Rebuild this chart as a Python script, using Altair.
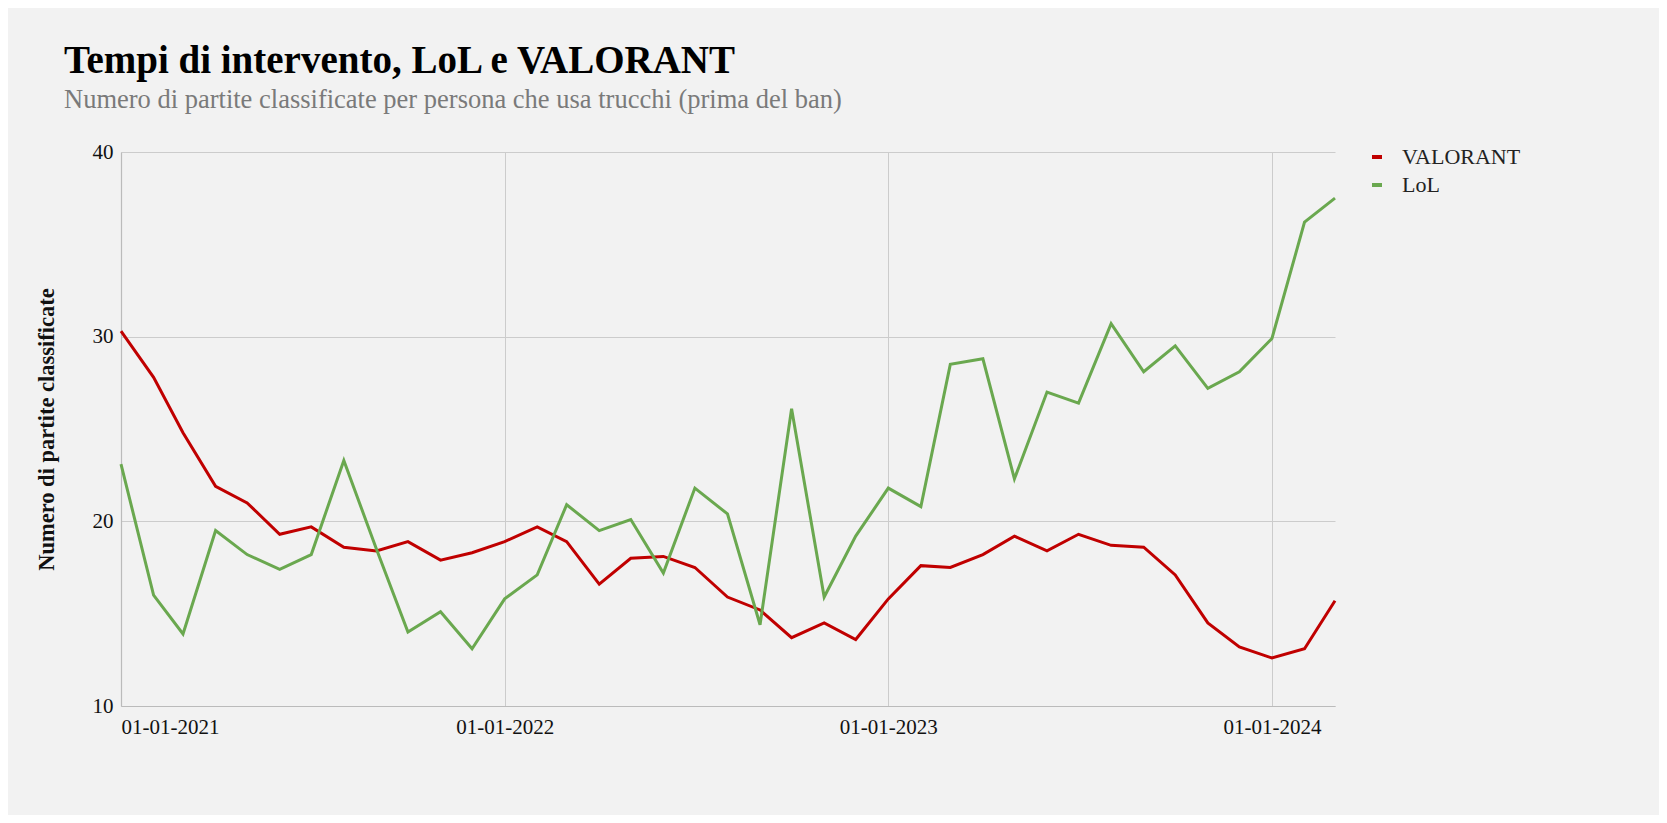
import altair as alt
import pandas as pd

months = pd.date_range("2021-01-01", "2024-03-01", freq="MS").strftime("%Y-%m-%d").tolist()

valorant = [30.3, 27.8, 24.8, 21.9, 21.0, 19.3, 19.7, 18.6, 18.4, 18.9,
            17.9, 18.3, 18.9, 19.7, 18.9, 16.6, 18.0, 18.1, 17.5, 15.9,
            15.2, 13.7, 14.5, 13.6, 15.8, 17.6, 17.5, 18.2, 19.2, 18.4,
            19.3, 18.7, 18.6, 17.1, 14.5, 13.2, 12.6, 13.1, 15.7]
lol = [23.1, 16.0, 13.9, 19.5, 18.2, 17.4, 18.2, 23.3, 18.5, 14.0,
       15.1, 13.1, 15.8, 17.1, 20.9, 19.5, 20.1, 17.2, 21.8, 20.4,
       14.4, 26.1, 15.9, 19.2, 21.8, 20.8, 28.5, 28.8, 22.3, 27.0,
       26.4, 30.7, 28.1, 29.5, 27.2, 28.1, 29.9, 36.2, 37.5]

series_names = ["VALORANT", "LoL"]
series_colors = ["#c00000", "#6aa84f"]
x_ticks = ["2021-01-01", "2022-01-01", "2023-01-01", "2024-01-01"]
y_ticks = [10, 20, 30, 40]

rows = []
for m, v in zip(months, valorant):
    rows.append({"date": m, "value": v, "gioco": "VALORANT"})
for m, v in zip(months, lol):
    rows.append({"date": m, "value": v, "gioco": "LoL"})
df = pd.DataFrame(rows)

FONT = "Liberation Serif"

chart = alt.Chart(df).mark_line(strokeWidth=3).encode(
    x=alt.X("date:T",
            scale=alt.Scale(domain=["2021-01-01", "2024-03-01"]),
            axis=alt.Axis(title=None, format="%d-%m-%Y", values=x_ticks,
                          labelFlush=True, labelOverlap=False)),
    y=alt.Y("value:Q",
            scale=alt.Scale(domain=[10, 40], nice=False, zero=False),
            axis=alt.Axis(title="Numero di partite classificate", values=y_ticks)),
    color=alt.Color("gioco:N",
                    scale=alt.Scale(domain=series_names, range=series_colors),
                    legend=alt.Legend(title=None, orient="none", legendX=1245, legendY=-6,
                                      symbolType="stroke", symbolSize=100,
                                      symbolStrokeWidth=4, labelFontSize=22,
                                      labelFont=FONT, labelColor="#222222",
                                      rowPadding=6, labelOffset=14)),
).properties(
    width=1214,
    height=554,
    title=alt.TitleParams(
        text="Tempi di intervento, LoL e VALORANT",
        subtitle="Numero di partite classificate per persona che usa trucchi (prima del ban)",
        anchor="start", frame="group", dx=-57, offset=28,
        font=FONT, fontSize=39, fontWeight="bold", color="#000000",
        subtitleFont=FONT, subtitleFontSize=26.5, subtitleColor="#7a7a7a",
        subtitlePadding=6,
    ),
    autosize=alt.AutoSizeParams(type="none"),
    padding={"left": 113, "top": 144, "right": 324, "bottom": 109},
).configure(
    background="#f2f2f2",
).configure_view(
    stroke=None,
).configure_axis(
    labelFont=FONT, labelFontSize=21, labelColor="#111111",
    titleFont=FONT, titleFontSize=22.5, titleFontWeight="bold", titleColor="#111111",
    gridColor="#cccccc", gridWidth=1, domainColor="#bbbbbb", domainWidth=1.2,
    ticks=False, labelPadding=8,
).configure_axisY(
    domain=True, titlePadding=34, labelPadding=8,
).configure_axisX(
    labelPadding=10,
)

chart.save("out.html", embed_options={"renderer": "svg", "actions": False})
